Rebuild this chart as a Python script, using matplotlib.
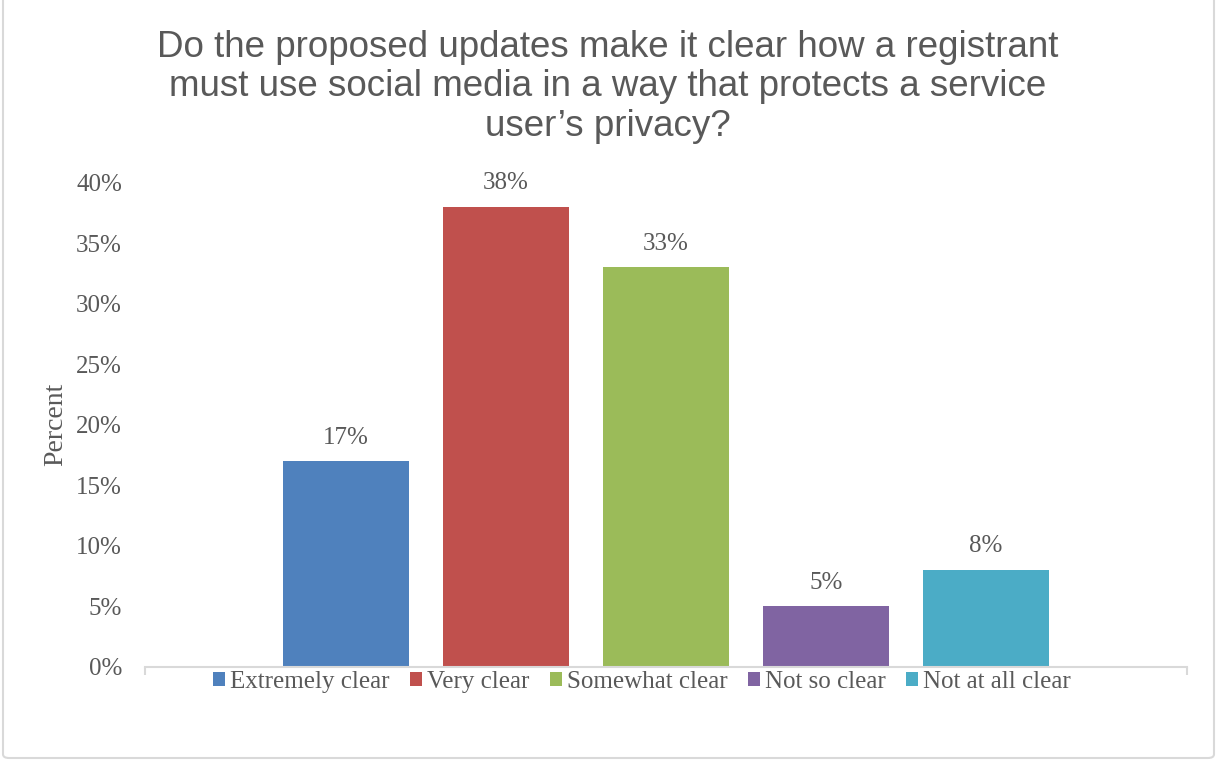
import matplotlib
matplotlib.use('Agg')
import matplotlib.pyplot as plt
from matplotlib.patches import FancyBboxPatch, Patch

title = 'Do the proposed updates make it clear how a registrant\nmust use social media in a way that protects a service\nuser\u2019s privacy?'
categories = ['Extremely clear', 'Very clear', 'Somewhat clear', 'Not so clear', 'Not at all clear']
values = [17, 38, 33, 5, 8]
colours = ['#4F81BD', '#C0504D', '#9BBB59', '#8064A2', '#4BACC6']
yticks = [0, 5, 10, 15, 20, 25, 30, 35, 40]

txt = '#595959'
serif = 'Liberation Serif'

fig = plt.figure(figsize=(12.16, 7.61), dpi=100)
ax = fig.add_axes([0.11924, 0.1237, 0.8567, 0.6365])

x = list(range(len(values)))
ax.bar(x, values, width=0.7875, color=colours)

for i, v in enumerate(values):
    ax.annotate('%d%%' % v, (i, v), xytext=(0, 9), textcoords='offset points',
                ha='center', va='bottom', fontsize=18, family=serif, color=txt)

ax.set_xlim(-1.254, 5.256)
ax.set_ylim(0, 40)
ax.set_yticks(yticks)
ax.set_yticklabels(['%d%%' % t for t in yticks], fontsize=18, family=serif, color=txt)
ax.tick_params(axis='y', length=0, pad=16.5)
ax.set_xticks([-1.254, 5.256])
ax.set_xticklabels(['', ''])
ax.tick_params(axis='x', length=6, color='#D9D9D9', width=1.5, direction='out')

for s in ['top', 'right', 'left']:
    ax.spines[s].set_visible(False)
ax.spines['bottom'].set_color('#D9D9D9')
ax.spines['bottom'].set_linewidth(1.5)

ax.set_ylabel('Percent', fontsize=20, family=serif, color=txt, labelpad=6)

fig.text(0.5, 1 - 87 / 761, title, ha='center', va='center', fontsize=26.5,
         family='Liberation Sans', color=txt, linespacing=1.17)

handles = [Patch(facecolor=c, edgecolor='none') for c in colours]
leg = ax.legend(handles, categories, loc='center', bbox_to_anchor=(0.477, -0.031),
                ncol=5, frameon=False, handlelength=0.5, handleheight=0.5,
                handletextpad=0.2, columnspacing=0.8, borderpad=0,
                prop={'family': serif, 'size': 18})
for t in leg.get_texts():
    t.set_color(txt)

border = FancyBboxPatch((3 / 1216, 3 / 761), 1211 / 1216, 1.2, transform=fig.transFigure,
                        boxstyle='round,pad=0,rounding_size=0.005', facecolor='none',
                        edgecolor='#D9D9D9', linewidth=1.5, clip_on=False)
fig.patches.append(border)

fig.savefig('out.png', dpi=100)
